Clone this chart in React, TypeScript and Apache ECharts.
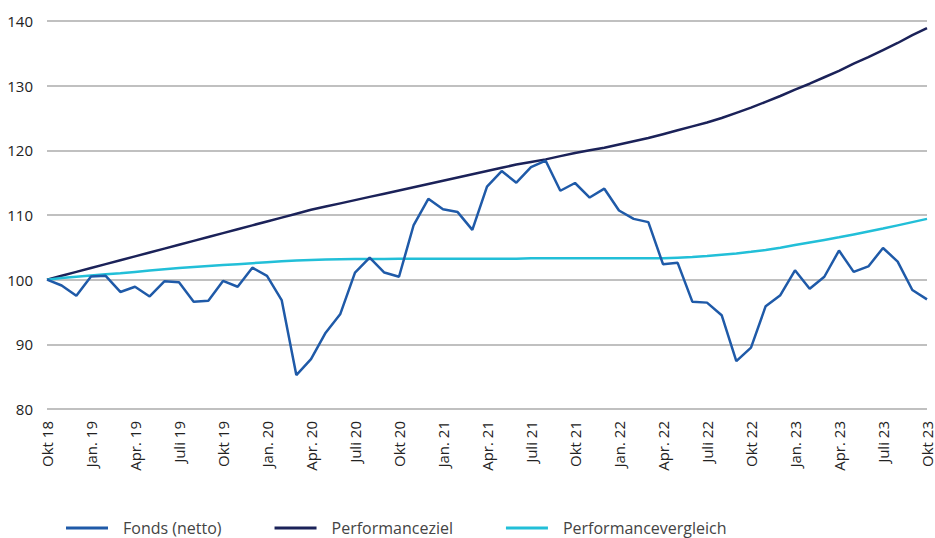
import React, { useEffect, useRef } from "react";
import * as echarts from "echarts";

const monthNames = ["Okt", "Nov.", "Dez.", "Jan.", "Feb.", "März", "Apr.", "Mai", "Juni", "Juli", "Aug.", "Sep."];
const startYear = 18;
const categories: string[] = [];
for (let i = 0; i < 61; i++) {
  const yr = startYear + Math.floor((9 + i) / 12);
  const name = monthNames[i % 12];
  categories.push(name + " " + String(yr).padStart(2, "0"));
}

const fonds = [
  100.0, 99.1, 97.5, 100.5, 100.6, 98.1, 98.9, 97.4, 99.75, 99.6, 96.6, 96.75,
  99.8, 98.9, 101.85, 100.6, 96.85, 85.25, 87.7, 91.8, 94.7, 101.1, 103.4, 101.1,
  100.45, 108.45, 112.5, 110.9, 110.45, 107.7, 114.4, 116.8, 115.0, 117.4, 118.4, 113.75,
  114.95, 112.7, 114.07, 110.7, 109.4, 108.9, 102.4, 102.6, 96.6, 96.45, 94.5, 87.4,
  89.5, 95.9, 97.6, 101.45, 98.6, 100.45, 104.5, 101.2, 102.05, 104.9, 102.8, 98.4,
  96.95,
];

const ziel = [
  100.0, 100.6, 101.2, 101.8, 102.4, 103.0, 103.6, 104.2, 104.8, 105.4, 106.0, 106.6,
  107.2, 107.8, 108.4, 109.0, 109.6, 110.2, 110.8, 111.3, 111.8, 112.3, 112.8, 113.3,
  113.8, 114.3, 114.8, 115.3, 115.8, 116.3, 116.8, 117.3, 117.8, 118.2, 118.6, 119.1,
  119.6, 120.0, 120.4, 120.9, 121.4, 121.9, 122.5, 123.1, 123.7, 124.3, 125.0, 125.8,
  126.6, 127.5, 128.4, 129.4, 130.3, 131.3, 132.3, 133.4, 134.4, 135.5, 136.6, 137.8,
  138.9,
];

const vergleich = [
  100.0, 100.25, 100.45, 100.65, 100.85, 101.0, 101.2, 101.4, 101.6, 101.8, 101.95, 102.1,
  102.25, 102.4, 102.55, 102.7, 102.85, 102.95, 103.05, 103.1, 103.15, 103.2, 103.2, 103.2,
  103.25, 103.25, 103.25, 103.25, 103.25, 103.25, 103.25, 103.25, 103.25, 103.3, 103.3, 103.3,
  103.3, 103.3, 103.3, 103.3, 103.3, 103.3, 103.3, 103.4, 103.5, 103.65, 103.85, 104.05,
  104.3, 104.6, 104.95, 105.35, 105.75, 106.15, 106.55, 107.0, 107.45, 107.9, 108.4, 108.9,
  109.4,
];

const seriesNames = ["Fonds (netto)", "Performanceziel", "Performancevergleich"];
const colors = ["#1f5aa8", "#1b2259", "#22bfd8"];

export default function App() {
  const ref = useRef<HTMLDivElement>(null);
  useEffect(() => {
    if (!ref.current) return;
    const chart = echarts.init(ref.current, null, { renderer: "svg" });
    const font = "'Open Sans', sans-serif";
    chart.setOption({
      animation: false,
      grid: { left: 47, right: 8, top: 21, bottom: 129, containLabel: false },
      legend: {
        left: 66,
        top: 520,
        padding: 0,
        icon: "rect",
        itemWidth: 42,
        itemHeight: 3,
        itemGap: 53,
        textStyle: { fontFamily: font, fontSize: 16, color: "#444", padding: [0, 0, 0, 10] },
        data: seriesNames,
      },
      xAxis: {
        type: "category",
        data: categories,
        boundaryGap: false,
        axisLine: { show: false },
        axisTick: { show: false },
        axisLabel: {
          interval: 2,
          rotate: 90,
          margin: 12,
          fontFamily: font,
          fontSize: 15,
          color: "#222",
        },
      },
      yAxis: {
        type: "value",
        min: 80,
        max: 140,
        interval: 10,
        axisLine: { show: false },
        axisTick: { show: false },
        axisLabel: { margin: 14, fontFamily: font, fontSize: 15, color: "#222" },
        splitLine: { lineStyle: { color: "#ababab", width: 1.5 } },
      },
      series: [
        { name: seriesNames[0], type: "line", data: fonds, showSymbol: false, lineStyle: { color: colors[0], width: 2.5 }, itemStyle: { color: colors[0] }, z: 3 },
        { name: seriesNames[1], type: "line", data: ziel, showSymbol: false, lineStyle: { color: colors[1], width: 2.5 }, itemStyle: { color: colors[1] }, z: 2 },
        { name: seriesNames[2], type: "line", data: vergleich, showSymbol: false, lineStyle: { color: colors[2], width: 2.5 }, itemStyle: { color: colors[2] }, z: 2 },
      ],
    });
    return () => chart.dispose();
  }, []);
  return <div ref={ref} style={{ width: 935, height: 538, position: "absolute", left: 0, top: 0 }} />;
}
